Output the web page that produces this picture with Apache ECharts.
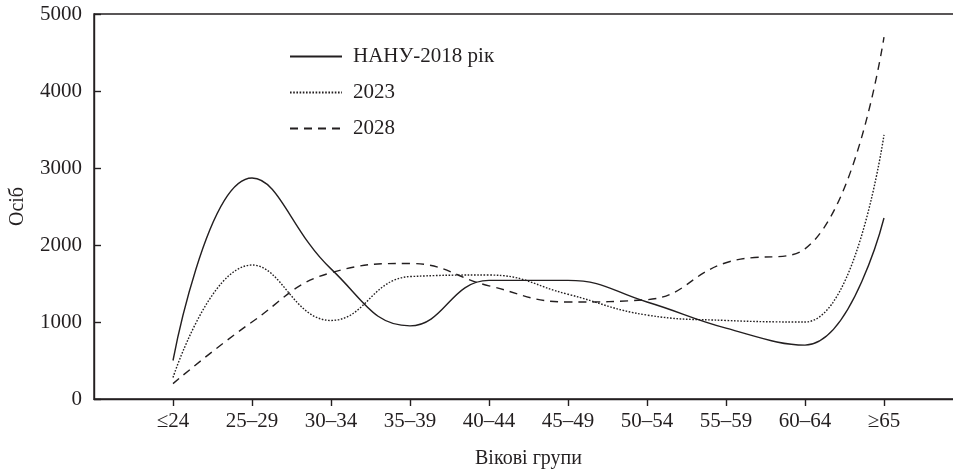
<!DOCTYPE html>
<html lang="uk">
<head>
    <meta charset="UTF-8">
    <title>Вікові групи</title>
    <script src="https://cdn.jsdelivr.net/npm/echarts@6/dist/echarts.min.js"></script>
    <style>
        html, body { margin: 0; padding: 0; background: #fff; overflow: hidden; }
        /* plot runs past the right edge of the window, as in the source */
        #chart { width: 963px; height: 474px; }
    </style>
</head>
<body>
<div id="chart"></div>
<script>
    const ageGroups = ['≤24', '25–29', '30–34', '35–39', '40–44', '45–49', '50–54', '55–59', '60–64', '≥65'];
    const nanu2018 = [500, 2870, 1690, 950, 1540, 1540, 1260, 920, 700, 2350];
    const y2023 = [280, 1740, 1020, 1590, 1610, 1360, 1090, 1020, 1000, 3430];
    const y2028 = [200, 1000, 1640, 1760, 1470, 1260, 1290, 1770, 1950, 4700];

    const ink = '#231f20';
    const font = '"Liberation Serif", "DejaVu Serif", serif';

    // порожні крайні позиції дають відступ від осей
    const pad = arr => [null].concat(arr, [null]);
    const cats = [''].concat(ageGroups, ['']);

    const chart = echarts.init(document.getElementById('chart'));

    function line(name, data, type) {
        return {
            name: name,
            type: 'line',
            data: pad(data),
            smooth: 0.45,
            symbol: 'none',
            lineStyle: { color: ink, width: 1.4, type: type },
            itemStyle: { color: ink }
        };
    }

    chart.setOption({
        animation: false,
        textStyle: { fontFamily: font, color: ink },
        grid: {
            left: 93, top: 14, bottom: 73, right: 0,
            show: true, borderColor: ink, borderWidth: 1.4
        },
        legend: {
            orient: 'vertical',
            left: 284, top: 41,
            itemWidth: 52, itemHeight: 14, itemGap: 15,
            itemStyle: { opacity: 0 },
            textStyle: { fontFamily: font, fontSize: 21, color: ink, padding: [0, 0, 0, 6] },
            data: ['НАНУ-2018 рік', '2023', '2028']
        },
        xAxis: {
            type: 'category',
            data: cats,
            boundaryGap: false,
            name: 'Вікові групи',
            nameLocation: 'middle',
            nameGap: 50,
            nameTextStyle: { fontFamily: font, fontSize: 20, color: ink },
            axisLine: { lineStyle: { color: ink, width: 1.4 } },
            axisTick: {
                length: 7, lineStyle: { color: ink, width: 1.4 },
                interval: (i, v) => v !== ''
            },
            axisLabel: {
                fontFamily: font, fontSize: 21, color: ink, margin: 12,
                interval: (i, v) => v !== ''
            },
            splitLine: { show: false }
        },
        yAxis: {
            type: 'value',
            min: 0, max: 5000, interval: 1000,
            name: 'Осіб',
            nameLocation: 'middle',
            nameGap: 66,
            nameTextStyle: { fontFamily: font, fontSize: 20, color: ink },
            axisLine: { show: true, lineStyle: { color: ink, width: 1.4 } },
            axisTick: { show: true, inside: true, length: 7, lineStyle: { color: ink, width: 1.4 } },
            axisLabel: { fontFamily: font, fontSize: 21, color: ink, margin: 12, formatter: v => String(v) },
            splitLine: { show: false }
        },
        series: [
            line('НАНУ-2018 рік', nanu2018, 'solid'),
            line('2023', y2023, [1.6, 1.6]),
            line('2028', y2028, [8, 6])
        ]
    });
</script>
</body>
</html>
